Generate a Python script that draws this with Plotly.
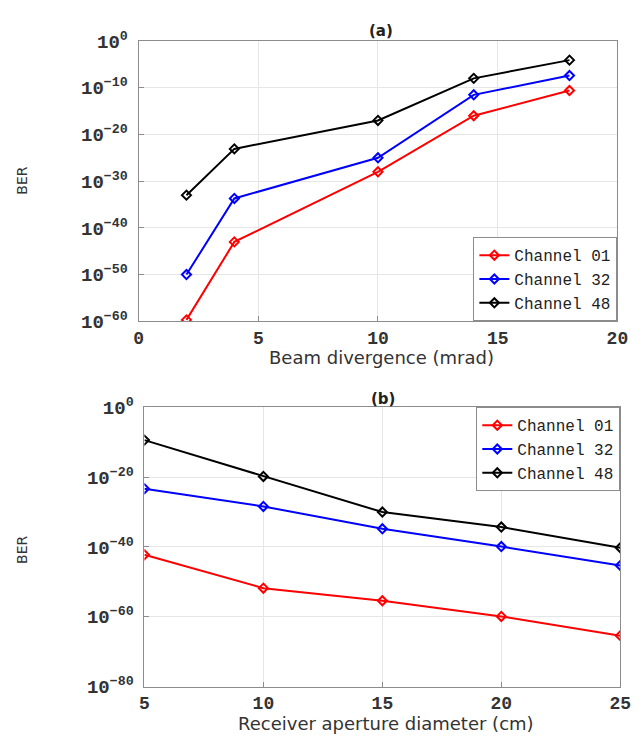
import plotly.graph_objects as go

# ---------------- data ----------------
channels = ["Channel 01", "Channel 32", "Channel 48"]
colors = ["#ff0000", "#0000ff", "#000000"]

# (a) BER vs beam divergence
div_mrad = [2, 4, 10, 14, 18]
ber_a_ch01 = [2e-60, 1e-43, 1e-28, 1e-16, 2.5e-11]
ber_a_ch32 = [1e-50, 2e-34, 1e-25, 3e-12, 4e-8]
ber_a_ch48 = [1e-33, 8e-24, 1e-17, 1e-8, 8e-5]

# (b) BER vs receiver aperture diameter
aperture_cm = [5, 10, 15, 20, 25]
ber_b_ch01 = [6e-43, 1.6e-52, 4e-56, 1.3e-60, 4e-66]
ber_b_ch32 = [5e-24, 4e-29, 1.6e-35, 1.3e-40, 5e-46]
ber_b_ch48 = [4e-10, 1.6e-20, 1e-30, 5e-35, 6e-41]

ytick_vals_a = [1e0, 1e-10, 1e-20, 1e-30, 1e-40, 1e-50, 1e-60]
ytick_text_a = ["10<sup>0</sup>", "10<sup>−10</sup>", "10<sup>−20</sup>", "10<sup>−30</sup>",
                "10<sup>−40</sup>", "10<sup>−50</sup>", "10<sup>−60</sup>"]
ytick_vals_b = [1e0, 1e-20, 1e-40, 1e-60, 1e-80]
ytick_text_b = ["10<sup>0</sup>", "10<sup>−20</sup>", "10<sup>−40</sup>", "10<sup>−60</sup>",
                "10<sup>−80</sup>"]

W, H = 643, 747

fig = go.Figure()

for name, col, ys in zip(channels, colors, [ber_a_ch01, ber_a_ch32, ber_a_ch48]):
    fig.add_trace(go.Scatter(
        x=div_mrad, y=ys, name=name, mode="lines+markers",
        line=dict(color=col, width=2),
        marker=dict(symbol="diamond-open", size=7, color=col, line=dict(width=2, color=col)),
        xaxis="x", yaxis="y", legend="legend"))

for name, col, ys in zip(channels, colors, [ber_b_ch01, ber_b_ch32, ber_b_ch48]):
    fig.add_trace(go.Scatter(
        x=aperture_cm, y=ys, name=name, mode="lines+markers",
        line=dict(color=col, width=2),
        marker=dict(symbol="diamond-open", size=7, color=col, line=dict(width=2, color=col)),
        xaxis="x2", yaxis="y2", legend="legend2"))

xtickfont = dict(family="Liberation Mono", size=18, color="#333333", weight="bold")
ytickfont = dict(family="Liberation Mono", size=19, color="#333333", weight="bold")
axis_common = dict(showline=True, linecolor="#8c8c8c", linewidth=1, mirror=True,
                   ticks="inside", ticklen=5, tickcolor="#8c8c8c",
                   showgrid=True, gridcolor="#e6e6e6", gridwidth=1,
                   zeroline=False)

# plot-area pixel boxes
a_l, a_r, a_t, a_b = 137, 628, 30, 320
b_l, b_r, b_t, b_b = 143, 631, 409, 698

fig.update_layout(
    width=W, height=H,
    margin=dict(l=0, r=0, t=0, b=0),
    paper_bgcolor="white", plot_bgcolor="white",
    xaxis=dict(domain=[a_l / W, a_r / W], range=[0, 20], dtick=5, anchor="y",
               ticklabelstandoff=0, tickfont=xtickfont, **axis_common),
    yaxis=dict(domain=[1 - a_b / H, 1 - a_t / H], type="log", range=[-60, 0],
               tickvals=ytick_vals_a, ticktext=ytick_text_a, anchor="x",
               ticklabelstandoff=6, tickfont=ytickfont, **axis_common),
    xaxis2=dict(domain=[b_l / W, b_r / W], range=[5, 25], dtick=5, anchor="y2",
                ticklabelstandoff=0, tickfont=xtickfont, **axis_common),
    yaxis2=dict(domain=[1 - b_b / H, 1 - b_t / H], type="log", range=[-80, 0],
                tickvals=ytick_vals_b, ticktext=ytick_text_b, anchor="x2",
                ticklabelstandoff=6, tickfont=ytickfont, **axis_common),
    legend=dict(x=a_r / W, y=1 - a_b / H, xanchor="right", yanchor="bottom",
                bgcolor="white", bordercolor="#8c8c8c", borderwidth=1,
                font=dict(family="Liberation Mono", size=16, color="#222222"),
                itemwidth=30, tracegroupgap=0),
    legend2=dict(x=b_r / W, y=1 - b_t / H, xanchor="right", yanchor="top",
                 bgcolor="white", bordercolor="#8c8c8c", borderwidth=1,
                 font=dict(family="Liberation Mono", size=16, color="#222222"),
                 itemwidth=30, tracegroupgap=0),
    showlegend=True,
)

label_font = dict(family="DejaVu Sans", size=18, color="#333333")
annos = [
    dict(text="<b>(a)</b>", x=386, y=20, font=dict(family="DejaVu Sans", size=15, color="#222222")),
    dict(text="<b>(b)</b>", x=388, y=400, font=dict(family="DejaVu Sans", size=15, color="#222222")),
    dict(text="Beam divergence (mrad)", x=386, y=357, font=label_font),
    dict(text="Receiver aperture diameter (cm)", x=391, y=736, font=label_font),
    dict(text="BER", x=18, y=175, textangle=-90, font=dict(family="DejaVu Sans", size=14, color="#333333")),
    dict(text="BER", x=18, y=557, textangle=-90, font=dict(family="DejaVu Sans", size=14, color="#333333")),
]
for a in annos:
    fig.add_annotation(text=a["text"], x=a["x"] / W, y=1 - a["y"] / H, xref="paper", yref="paper",
                       xanchor="center", yanchor="middle", showarrow=False,
                       textangle=a.get("textangle", 0), font=a["font"])

fig.write_html("out.html", config={"displayModeBar": False},
               post_script="document.body.style.margin='0';document.body.style.overflow='hidden';")
